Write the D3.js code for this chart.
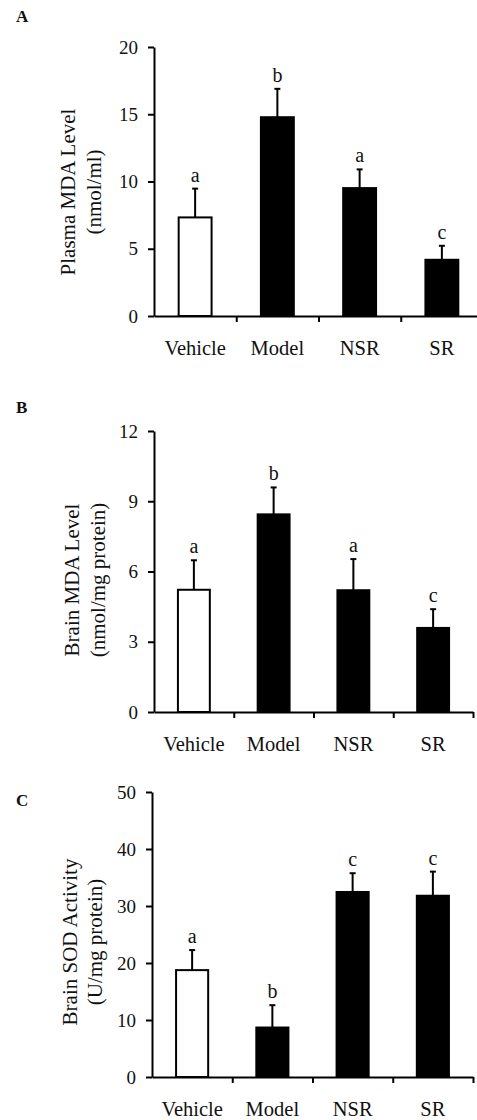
<!DOCTYPE html>
<html>
<head>
<meta charset="utf-8">
<script src="https://cdn.jsdelivr.net/npm/d3@7"></script>
<style>
  body { margin: 0; background: #fff; }
  svg text { font-family: "Liberation Serif", "Times New Roman", serif; fill: #111; }
  .domain, .tick line { stroke: #000; stroke-width: 2; }
</style>
</head>
<body>
<div id="chart"></div>
<script>
// group names shared by all three panels
var groups = ["Vehicle", "Model", "NSR", "SR"];

// A: plasma MDA (nmol/ml)
var plasmaMda = [7.33, 14.78, 9.51, 4.18];
var plasmaMdaErr = [2.14, 2.11, 1.39, 1.04];
var plasmaMdaSig = ["a", "b", "a", "c"];
var plasmaMdaTicks = [0, 5, 10, 15, 20];

// B: brain MDA (nmol/mg protein)
var brainMda = [5.22, 8.44, 5.20, 3.59];
var brainMdaErr = [1.26, 1.15, 1.33, 0.80];
var brainMdaSig = ["a", "b", "a", "c"];
var brainMdaTicks = [0, 3, 6, 9, 12];

// C: brain SOD activity (U/mg protein)
var brainSod = [18.75, 8.68, 32.46, 31.80];
var brainSodErr = [3.52, 3.92, 3.29, 4.23];
var brainSodSig = ["a", "b", "c", "c"];
var brainSodTicks = [0, 10, 20, 30, 40, 50];

var barFill = ["#fff", "#000", "#000", "#000"];

var svgWidth = 477;
var svgHeight = 1120;

var svg = d3.select("#chart")
  .append("svg")
  .attr("width", svgWidth)
  .attr("height", svgHeight);

// panel placement (pixels)
var panels = [
  { tag: "A", values: plasmaMda, errs: plasmaMdaErr, sig: plasmaMdaSig, ticks: plasmaMdaTicks,
    title: ["Plasma MDA Level", "(nmol/ml)"],
    left: 154, right: 483, top: 47, bottom: 316,
    tagY: 22, titleX: [68, 94], titleY: 192 },
  { tag: "B", values: brainMda, errs: brainMdaErr, sig: brainMdaSig, ticks: brainMdaTicks,
    title: ["Brain MDA Level", "(nmol/mg protein)"],
    left: 154, right: 473, top: 431, bottom: 712,
    tagY: 413, titleX: [72, 98], titleY: 580 },
  { tag: "C", values: brainSod, errs: brainSodErr, sig: brainSodSig, ticks: brainSodTicks,
    title: ["Brain SOD Activity", "(U/mg protein)"],
    left: 152, right: 473, top: 792, bottom: 1077,
    tagY: 806, titleX: [70, 95], titleY: 942 }
];

panels.forEach(function(p) {
  var g = svg.append("g");

  var yMax = d3.max(p.ticks);
  var y = d3.scaleLinear()
    .domain([0, yMax])
    .range([p.bottom, p.top]);

  var x = d3.scaleBand()
    .domain(groups)
    .range([p.left, p.right])
    .paddingInner(0.6)
    .paddingOuter(0.3);

  // boundary ticks between groups
  var xEdge = d3.scaleLinear()
    .domain([0, groups.length])
    .range([p.left, p.right]);

  // bars
  g.selectAll("rect.bar")
    .data(p.values)
    .enter()
    .append("rect")
    .attr("class", "bar")
    .attr("x", (d, i) => x(groups[i]))
    .attr("y", d => y(d))
    .attr("width", x.bandwidth())
    .attr("height", d => y(0) - y(d))
    .attr("fill", (d, i) => barFill[i])
    .attr("stroke", "#000")
    .attr("stroke-width", 2);

  // error bars (upper only)
  var cx = i => x(groups[i]) + x.bandwidth() / 2;
  g.selectAll("line.err")
    .data(p.values)
    .enter()
    .append("line")
    .attr("x1", (d, i) => cx(i))
    .attr("x2", (d, i) => cx(i))
    .attr("y1", d => y(d))
    .attr("y2", (d, i) => y(d + p.errs[i]))
    .attr("stroke", "#000")
    .attr("stroke-width", 2);

  g.selectAll("line.cap")
    .data(p.values)
    .enter()
    .append("line")
    .attr("x1", (d, i) => cx(i) - 3)
    .attr("x2", (d, i) => cx(i) + 3)
    .attr("y1", (d, i) => y(d + p.errs[i]))
    .attr("y2", (d, i) => y(d + p.errs[i]))
    .attr("stroke", "#000")
    .attr("stroke-width", 2);

  // significance letters
  g.selectAll("text.sig")
    .data(p.sig)
    .enter()
    .append("text")
    .attr("x", (d, i) => cx(i))
    .attr("y", (d, i) => y(p.values[i] + p.errs[i]) - 7)
    .attr("text-anchor", "middle")
    .style("font-size", "20px")
    .text(d => d);

  // y axis
  g.append("g")
    .attr("transform", `translate(${p.left},0)`)
    .call(d3.axisLeft(y).tickValues(p.ticks).tickSize(6).tickSizeOuter(0).tickPadding(10))
    .call(a => a.selectAll("text").style("font-size", "19px").attr("fill", "#222"));

  // x axis line with boundary ticks
  g.append("g")
    .attr("transform", `translate(0,${p.bottom})`)
    .call(d3.axisBottom(xEdge).tickValues(d3.range(1, groups.length + 1)).tickFormat("").tickSize(6).tickSizeOuter(0));

  // group labels
  g.selectAll("text.grp")
    .data(groups)
    .enter()
    .append("text")
    .attr("x", d => x(d) + x.bandwidth() / 2)
    .attr("y", p.bottom + 39)
    .attr("text-anchor", "middle")
    .style("font-size", "20.5px")
    .text(d => d);

  // y axis title (two lines)
  p.title.forEach(function(t, k) {
    g.append("text")
      .attr("transform", `translate(${p.titleX[k]},${p.titleY}) rotate(-90)`)
      .attr("dy", "0.35em")
      .attr("text-anchor", "middle")
      .style("font-size", "21px")
      .text(t);
  });

  // panel letter
  g.append("text")
    .attr("x", 16)
    .attr("y", p.tagY)
    .attr("font-weight", "bold")
    .style("font-size", "17px")
    .text(p.tag);
});
</script>
</body>
</html>
